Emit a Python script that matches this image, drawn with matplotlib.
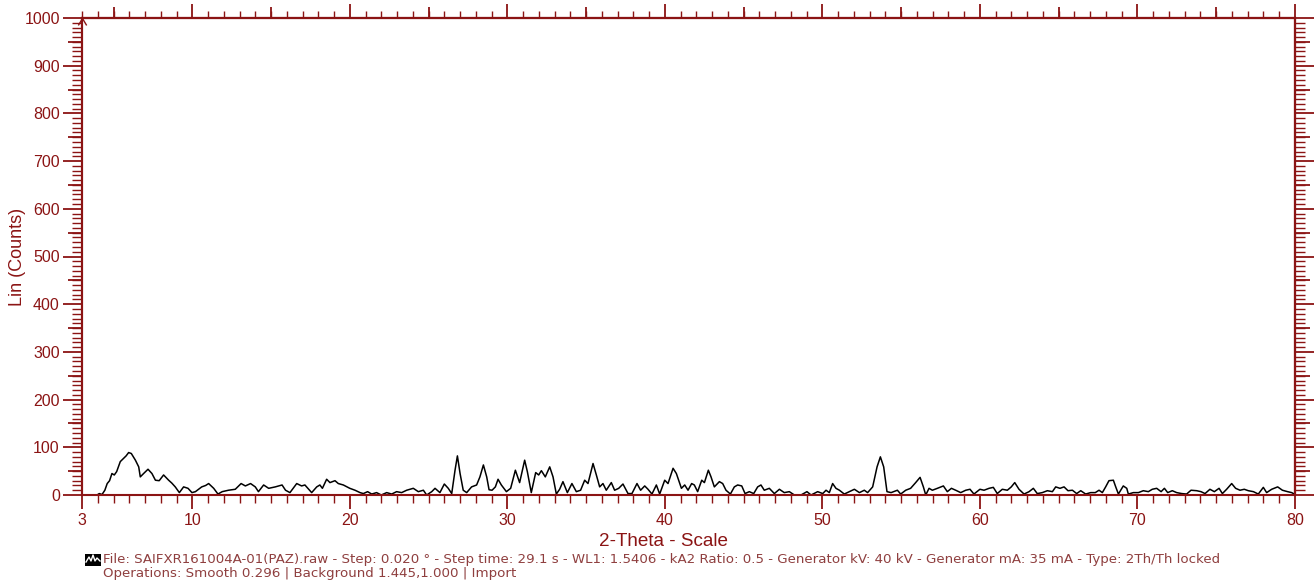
import matplotlib
matplotlib.use("Agg")
import matplotlib.pyplot as plt
from matplotlib.ticker import MultipleLocator, FixedLocator, NullFormatter
from matplotlib.path import Path
from matplotlib.patches import Rectangle
from matplotlib.lines import Line2D

plt.rcParams['font.family'] = ['Liberation Sans', 'DejaVu Sans']

# Diffraction scan: 2-theta (degrees) and intensity (counts)
two_theta = [
    3.95, 4.1, 4.27, 4.45, 4.6, 4.75, 4.9, 5.05, 5.2, 5.43, 5.65, 5.8, 5.96, 6.13,
    6.39, 6.6, 6.7, 6.91, 7.19, 7.44, 7.66, 7.9, 8.18, 8.5, 8.7, 8.92, 9.18, 9.45,
    9.73, 9.98, 10.2, 10.6, 10.85, 11.04, 11.36, 11.63, 11.9, 12.3, 12.73, 13.1,
    13.37, 13.7, 14.0, 14.2, 14.53, 14.85, 15.27, 15.7, 15.92, 16.2, 16.63, 16.94,
    17.15, 17.58, 17.9, 18.1, 18.26, 18.53, 18.74, 19.06, 19.27, 19.59, 20.0, 20.33,
    20.65, 20.86, 21.13, 21.39, 21.7, 22.0, 22.34, 22.66, 22.97, 23.29, 23.61, 24.03,
    24.35, 24.67, 24.88, 25.2, 25.41, 25.72, 26.0, 26.25, 26.47, 26.68, 26.83, 27.0,
    27.2, 27.42, 27.73, 28.05, 28.26, 28.48, 28.69, 28.84, 29.03, 29.24, 29.41, 29.62,
    29.94, 30.21, 30.51, 30.78, 31.1, 31.27, 31.52, 31.8, 31.99, 32.16, 32.41, 32.69,
    32.9, 33.11, 33.32, 33.53, 33.81, 34.1, 34.38, 34.65, 34.91, 35.12, 35.44, 35.65,
    35.86, 36.07, 36.28, 36.6, 36.81, 37.07, 37.34, 37.66, 37.91, 38.23, 38.46, 38.72,
    38.93, 39.18, 39.46, 39.67, 39.99, 40.2, 40.52, 40.73, 41.05, 41.26, 41.47, 41.7,
    41.87, 42.08, 42.34, 42.51, 42.76, 42.93, 43.14, 43.46, 43.67, 43.88, 44.16, 44.41,
    44.62, 44.88, 45.09, 45.36, 45.64, 45.89, 46.1, 46.31, 46.63, 46.95, 47.27, 47.58,
    47.9, 48.22, 48.64, 49.02, 49.28, 49.7, 50.02, 50.23, 50.44, 50.65, 50.86, 51.08,
    51.39, 51.71, 52.03, 52.35, 52.66, 52.87, 53.19, 53.47, 53.68, 53.89, 54.1, 54.36,
    54.6, 54.76, 54.97, 55.29, 55.6, 55.92, 56.2, 56.41, 56.56, 56.77, 56.98, 57.3,
    57.68, 57.93, 58.19, 58.46, 58.78, 59.1, 59.37, 59.62, 60.0, 60.26, 60.58, 60.85,
    61.1, 61.42, 61.74, 61.99, 62.21, 62.48, 62.8, 63.12, 63.39, 63.64, 63.96, 64.28,
    64.6, 64.81, 65.08, 65.34, 65.59, 65.87, 66.14, 66.4, 66.71, 67.03, 67.32, 67.56,
    67.77, 67.98, 68.19, 68.47, 68.62, 68.79, 69.1, 69.32, 69.42, 69.74, 70.06, 70.37,
    70.69, 70.94, 71.22, 71.5, 71.71, 71.92, 72.21, 72.49, 72.81, 73.12, 73.4, 73.76,
    74.03, 74.29, 74.6, 74.88, 75.18, 75.39, 75.66, 75.98, 76.23, 76.51, 76.78, 77.04,
    77.36, 77.67, 77.99, 78.2, 78.52, 78.9, 79.2, 79.53, 79.79, 79.9,
]
counts = [
    0, 3, 1, 10, 24, 30, 45, 42, 49, 70, 77, 82, 89, 87,
    73, 59, 38, 45, 54, 45, 31, 30, 42, 31, 25, 17, 5, 17,
    14, 5, 7, 17, 20, 24, 14, 2, 7, 10, 12, 24,
    19, 24, 17, 7, 21, 14, 17, 21, 10, 5, 24, 19,
    21, 5, 17, 21, 14, 33, 26, 30, 24, 21, 14, 10,
    5, 3, 7, 2, 5, 0, 5, 2, 7, 5, 10, 14,
    7, 10, 0, 7, 14, 5, 23, 14, 3, 52, 82, 45,
    10, 5, 17, 21, 38, 63, 38, 11, 10, 17, 33, 21,
    7, 14, 52, 26, 73, 49, 5, 47, 42, 51, 38, 59,
    38, 2, 12, 28, 5, 24, 7, 10, 31, 24, 66, 42,
    17, 24, 10, 26, 10, 14, 23, 3, 3, 24, 10, 19,
    12, 2, 21, 2, 31, 24, 56, 45, 14, 21, 10, 24,
    21, 7, 31, 26, 52, 38, 17, 28, 24, 10, 2, 17,
    21, 19, 3, 7, 3, 17, 21, 10, 14, 3, 12, 5,
    7, 0, 0, 7, 0, 7, 3, 10, 5, 24, 14, 10,
    2, 7, 12, 5, 10, 5, 17, 59, 80, 59, 7, 5,
    8, 10, 2, 10, 14, 26, 37, 17, 0, 14, 10, 14,
    19, 7, 14, 10, 5, 10, 12, 2, 12, 10, 14, 16,
    3, 12, 10, 17, 26, 12, 2, 7, 14, 3, 5, 9,
    7, 17, 14, 17, 9, 10, 3, 9, 2, 5, 5, 10,
    5, 17, 30, 31, 17, 2, 19, 14, 2, 5, 5, 9,
    7, 12, 14, 7, 14, 5, 9, 5, 3, 2, 10, 9,
    7, 3, 12, 7, 14, 3, 12, 24, 14, 10, 12, 9,
    7, 2, 16, 5, 12, 17, 10, 7, 5, 3,
]

x_major = [3, 10, 20, 30, 40, 50, 60, 70, 80]

RED = '#8b1414'
FOOT = '#8f3f3f'

W, H = 1314, 583
fig = plt.figure(figsize=(W / 100, H / 100), dpi=100)
fig.patch.set_facecolor('white')
ax = fig.add_axes([82 / W, 1 - 495 / H, (1295 - 82) / W, (495 - 18) / H])

ax.plot(two_theta, counts, color='black', lw=1.1)
ax.set_xlim(3, 80)
ax.set_ylim(0, 1000)

for sp in ax.spines.values():
    sp.set_color(RED)
    sp.set_linewidth(1.5)

# bottom axis
ax.xaxis.set_major_locator(FixedLocator(x_major))
ax.xaxis.set_minor_locator(MultipleLocator(1))
ax.tick_params(axis='x', which='major', direction='out', length=10, width=1.3,
               color=RED, labelcolor=RED, labelsize=11.5, pad=3, top=False)
ax.tick_params(axis='x', which='minor', direction='out', length=6, width=1.0,
               color=RED, top=False)

# left axis
ax.yaxis.set_major_locator(MultipleLocator(100))
ax.yaxis.set_minor_locator(MultipleLocator(10))
ax.tick_params(axis='y', which='major', direction='out', length=14, width=1.3,
               color=RED, labelcolor=RED, labelsize=11.5, pad=2, right=False)
ax.tick_params(axis='y', which='minor', direction='out', length=7, width=1.0,
               color=RED, right=False)


def tick_axis(kind, side, major, minor, maj_len, min_len):
    if kind == 'x':
        sec = ax.secondary_xaxis(side)
        axis = sec.xaxis
    else:
        sec = ax.secondary_yaxis(side)
        axis = sec.yaxis
    axis.set_major_locator(major)
    if minor is not None:
        axis.set_minor_locator(minor)
    axis.set_major_formatter(NullFormatter())
    axis.set_minor_formatter(NullFormatter())
    sec.tick_params(which='major', direction='out', length=maj_len, width=1.3, color=RED)
    sec.tick_params(which='minor', direction='out', length=min_len, width=1.0, color=RED)
    for sp in sec.spines.values():
        sp.set_color(RED)
        sp.set_linewidth(1.5)
    return sec


# top axis: 1-degree, 5-degree and 10-degree marks
tick_axis('x', 'top', MultipleLocator(10), MultipleLocator(1), 10, 5)
tick_axis('x', 'top', FixedLocator(list(range(5, 80, 10))), None, 8, 8)
# left medium marks
tick_axis('y', 'left', FixedLocator(list(range(50, 1000, 100))), None, 10, 10)
# right axis
tick_axis('y', 'right', MultipleLocator(100), MultipleLocator(10), 14, 7)
tick_axis('y', 'right', FixedLocator(list(range(50, 1000, 100))), None, 11, 11)

# arrow cap at the top of the intensity axis
caret = Path([(-0.6, -1.0), (0.0, 0.0), (0.6, -1.0)],
             [Path.MOVETO, Path.LINETO, Path.LINETO])
ax.plot([3], [1000], marker=caret, markersize=10, color=RED, mew=1.0,
        fillstyle='none', linestyle='none', clip_on=False, zorder=5)

fig.text(663 / W, 1 - 541 / H, '2-Theta - Scale', ha='center', va='center',
         fontsize=13.6, color=RED)
fig.text(18 / W, 1 - 257 / H, 'Lin (Counts)', ha='center', va='center',
         rotation=90, fontsize=13, color=RED)

# scan information footer
fig.add_artist(Rectangle((85 / W, 1 - 566 / H), 16 / W, 12 / H,
                         transform=fig.transFigure, facecolor='black',
                         edgecolor='none'))
wx = [86, 89, 91, 93, 95, 97, 100]
wy = [562, 557, 561, 555, 561, 558, 561]
fig.add_artist(Line2D([v / W for v in wx], [1 - v / H for v in wy],
                      transform=fig.transFigure, color='white', lw=1.0))

line1 = ('File: SAIFXR161004A-01(PAZ).raw - Step: 0.020 \u00b0 - Step time: 29.1 s - '
         'WL1: 1.5406 - kA2 Ratio: 0.5 - Generator kV: 40 kV - Generator mA: 35 mA - '
         'Type: 2Th/Th locked')
line2 = 'Operations: Smooth 0.296 | Background 1.445,1.000 | Import'
foot_font = ['DejaVu Sans']
fig.text(103 / W, 1 - 560 / H, line1, ha='left', va='center', fontsize=9.6,
         color=FOOT, family=foot_font)
fig.text(103 / W, 1 - 574 / H, line2, ha='left', va='center', fontsize=9.6,
         color=FOOT, family=foot_font)

fig.savefig('out.png', dpi=100, facecolor='white')
